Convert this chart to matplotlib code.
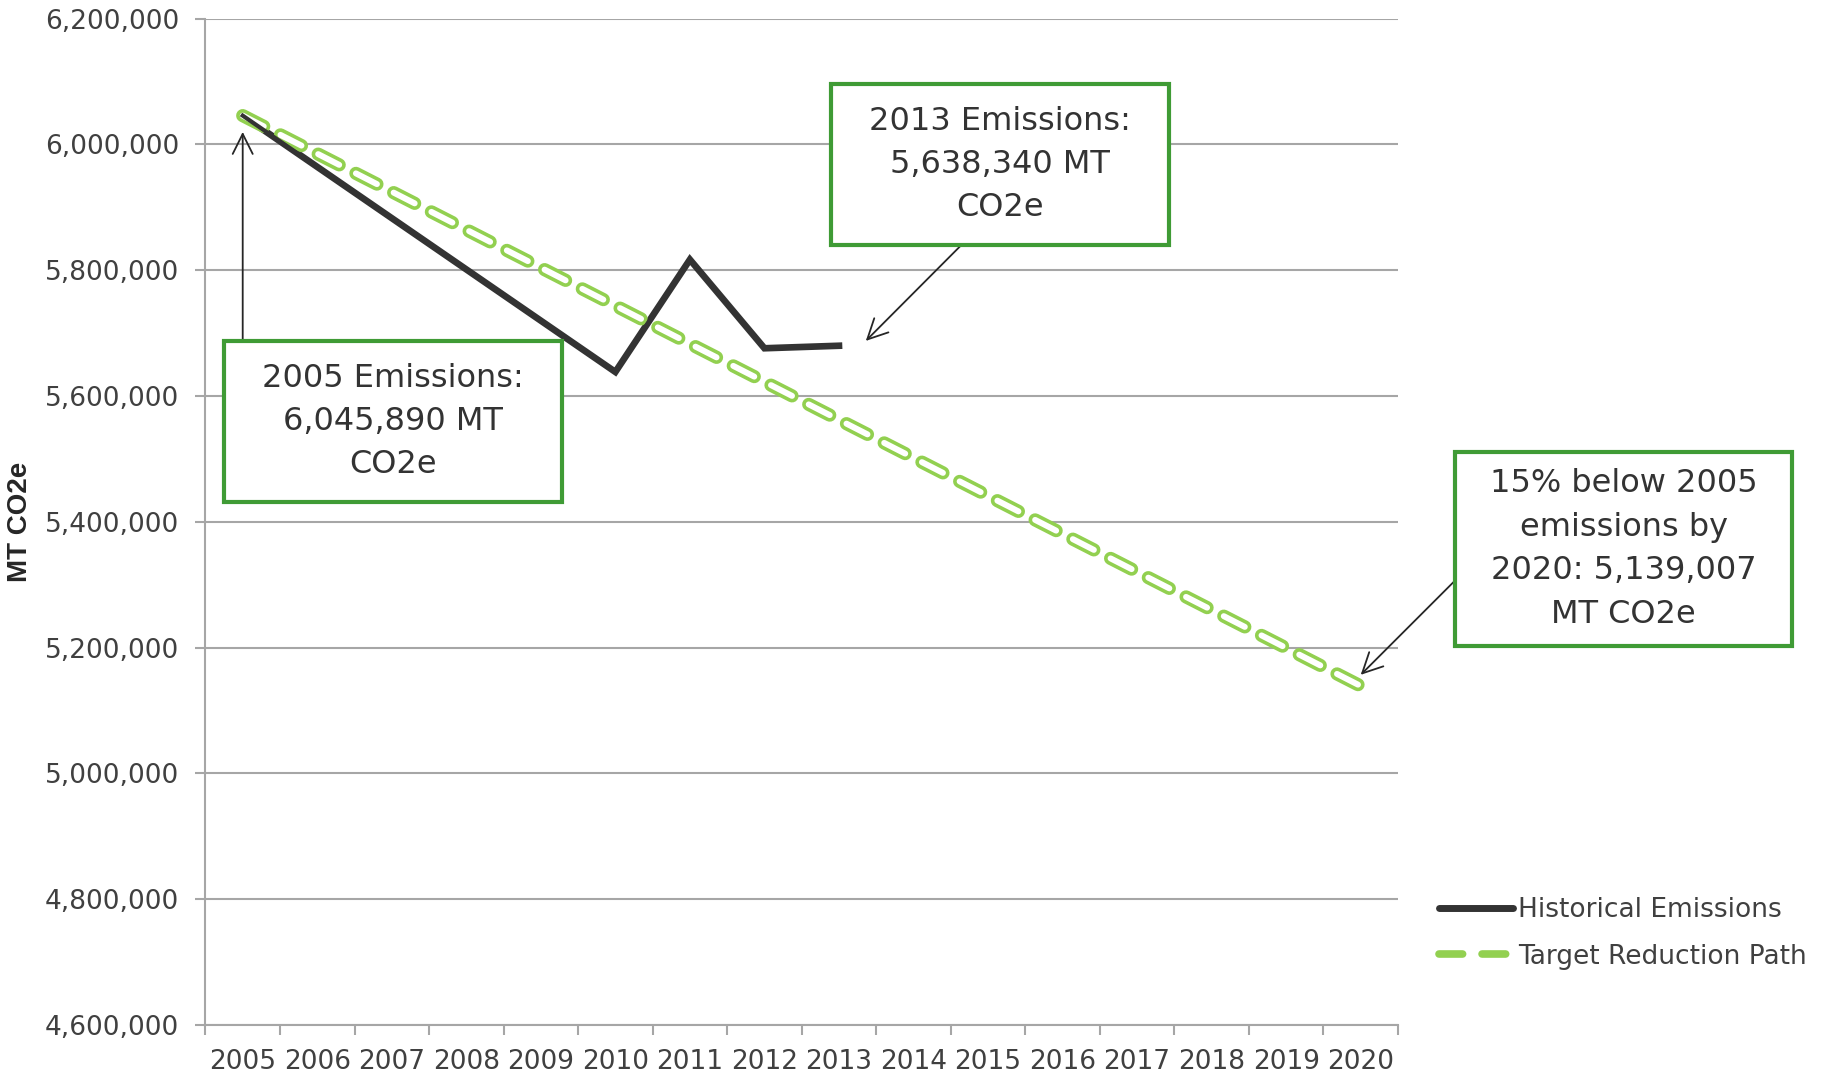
import matplotlib
matplotlib.use("Agg")
import numpy as np
import matplotlib.pyplot as plt
from matplotlib.lines import Line2D
from matplotlib.patches import Rectangle
from matplotlib.ticker import FuncFormatter

# Data
years = list(range(2005, 2021))
hist_years = [2005, 2010, 2011, 2012, 2013]
hist_values = [6045890, 5638340, 5817000, 5676000, 5680000]
target_years = [2005, 2020]
target_values = [6045890, 5139007]

plt.rcParams["font.family"] = ["DejaVu Sans"]
plt.rcParams["lines.scale_dashes"] = False
text_col = "#404040"
grid_col = "#a6a6a6"
green = "#92d050"
box_green = "#3f9b35"
dark = "#333333"

fig = plt.figure(figsize=(18.31, 10.74), dpi=100)
ax = fig.add_axes([0.1122, 0.0456, 0.6513, 0.937])

# x positions are category indices (2005 -> 0)
hx = [y - years[0] for y in hist_years]
tx = [y - years[0] for y in target_years]

ax.plot(hx, hist_values, color=dark, lw=4.8, solid_joinstyle="miter", zorder=3)
ax.plot(tx, target_values, color=green, lw=9.5, dashes=(17, 13.5),
        dash_capstyle="round", zorder=4)
ax.plot(tx, target_values, color="white", lw=4.3, dashes=(17, 13.5),
        dash_capstyle="round", zorder=5)
ax.plot(hx, hist_values, color=dark, lw=3, zorder=6)

# axes styling
ax.set_xlim(-0.5, len(years) - 0.5)
ax.set_ylim(4600000, 6200000)
ax.set_yticks(np.arange(4600000, 6200001, 200000))
ax.yaxis.set_major_formatter(FuncFormatter(lambda v, p: f"{int(v):,}"))
ax.yaxis.grid(True, color=grid_col, lw=1.5)
ax.set_axisbelow(True)
for s in ["top", "right"]:
    ax.spines[s].set_visible(False)
for s in ["left", "bottom"]:
    ax.spines[s].set_color(grid_col)
    ax.spines[s].set_linewidth(1.5)

ax.set_xticks(np.arange(-0.5, len(years), 1))
ax.set_xticklabels([])
ax.set_xticks(np.arange(len(years)), minor=True)
ax.set_xticklabels([str(y) for y in years], minor=True)
ax.tick_params(axis="x", which="major", length=7, width=1.5, color=grid_col)
ax.tick_params(axis="x", which="minor", length=0, pad=17, labelsize=19,
               labelcolor=text_col)
ax.tick_params(axis="y", length=7, width=1.5, color=grid_col, pad=12,
               labelsize=19, labelcolor=text_col)

ax.set_ylabel("MT CO2e", fontsize=20, fontweight="bold", color="#262626",
              family=["Liberation Sans", "DejaVu Sans"])
ax.yaxis.set_label_coords(-0.145, 0.5)

# annotation boxes
boxes = [
    ((0.1223, 0.5326, 0.1846, 0.1499), "2005 Emissions:\n6,045,890 MT\nCO2e"),
    ((0.4539, 0.7719, 0.1846, 0.1499), "2013 Emissions:\n5,638,340 MT\nCO2e"),
    ((0.7947, 0.3985, 0.1841, 0.1806),
     "15% below 2005\nemissions by\n2020: 5,139,007\nMT CO2e"),
]
for (x0, y0, w, h), txt in boxes:
    fig.add_artist(Rectangle((x0, y0), w, h, transform=fig.transFigure,
                             facecolor="white", edgecolor=box_green, lw=3,
                             zorder=10))
    fig.text(x0 + w / 2, y0 + h / 2, txt, ha="center", va="center",
             fontsize=23, color="#333333", linespacing=1.52, zorder=11)

arrows = [
    ((0, 5687700), (0, 6020000)),
    ((9.64, 5839900), (8.36, 5687700)),
    ((16.27, 5307200), (15.0, 5156800)),
]
for tail, tip in arrows:
    ax.annotate("", xy=tip, xytext=tail, annotation_clip=False,
                arrowprops=dict(arrowstyle="->", color="#262626", lw=1.3,
                                mutation_scale=36, shrinkA=0, shrinkB=0),
                zorder=9)

handles = [
    Line2D([], [], color=dark, lw=5, solid_capstyle="round"),
    Line2D([], [], color=green, lw=5.5, dashes=(17, 14), dash_capstyle="round"),
]
fig.legend(handles, ["Historical Emissions", "Target Reduction Path"],
           loc="center left", bbox_to_anchor=(0.786, 0.131), frameon=False,
           borderpad=0, borderaxespad=0, fontsize=19, handlelength=2.8,
           handletextpad=0.2, labelspacing=0.78, labelcolor=text_col)

fig.savefig("out.png", dpi=100)
